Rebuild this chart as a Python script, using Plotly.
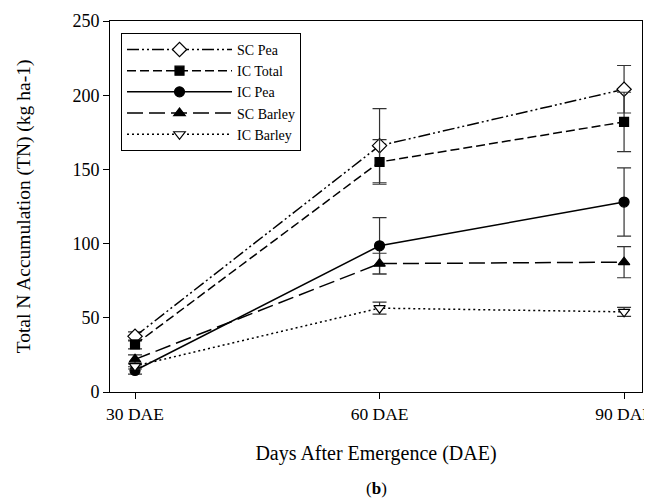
import plotly.graph_objects as go

days = [30, 60, 90]
tick_labels = ["30 DAE", "60 DAE", "90 DAE"]

sc_pea = [37.5, 166, 204]
sc_pea_err = [3, 25, 16]
ic_total = [32, 155, 182]
ic_total_err = [3, 15, 20]
ic_pea = [14.5, 98.5, 128]
ic_pea_err = [2.5, 19, 23]
sc_barley = [22, 86.5, 87.5]
sc_barley_err = [3, 7, 10.5]
ic_barley = [17.5, 56.5, 54]
ic_barley_err = [2, 4, 3]

series = [
    ("SC Pea", sc_pea, sc_pea_err, "12px,3px,2px,3px,2px,3px", "diamond", "white", 11),
    ("IC Total", ic_total, ic_total_err, "9px,4px", "square", "black", 9),
    ("IC Pea", ic_pea, ic_pea_err, "solid", "circle", "black", 10),
    ("SC Barley", sc_barley, sc_barley_err, "16px,6px", "triangle-up", "black", 10),
    ("IC Barley", ic_barley, ic_barley_err, "2px,3px", "triangle-down", "white", 10),
]

fig = go.Figure()
for name, vals, err, dash, sym, fill, size in series:
    fig.add_trace(go.Scatter(
        x=days, y=vals, name=name, mode="lines+markers",
        line=dict(color="black", width=1.5, dash=dash),
        marker=dict(symbol=sym, size=size, color=fill,
                    line=dict(color="black", width=1.2)),
        error_y=dict(type="data", array=err, visible=True, color="#333333",
                     thickness=1.2, width=7),
    ))

serif = "Liberation Serif, Times New Roman, serif"
fig.update_layout(
    width=644, height=493,
    margin=dict(l=102, r=10, t=13, b=109),
    paper_bgcolor="white", plot_bgcolor="white",
    font=dict(family=serif, color="black", size=17),
    showlegend=True,
    legend=dict(
        x=0.0207, y=0.968, xanchor="left", yanchor="top",
        bordercolor="black", borderwidth=1, bgcolor="white",
        font=dict(family=serif, size=14, color="black"),
        itemwidth=105, tracegroupgap=0,
    ),
    xaxis=dict(
        range=[26.93, 92.2], tickvals=days, ticktext=tick_labels,
        showgrid=False, zeroline=False, showline=True, linecolor="black",
        linewidth=1, mirror=True, ticks="outside", ticklen=6, tickcolor="black",
        ticklabeloverflow="allow", automargin=False,
        title=dict(text="Days After Emergence (DAE)", font=dict(size=20), standoff=22),
        tickfont=dict(size=17.5),
    ),
    yaxis=dict(
        range=[0, 250], tickvals=[0, 50, 100, 150, 200, 250],
        showgrid=False, zeroline=False, showline=True, linecolor="black",
        linewidth=1, mirror=True, ticks="outside", ticklen=6, tickcolor="black",
        automargin=False,
        title=dict(text="Total N Accumulation (TN) (kg ha-1)", font=dict(size=19.5), standoff=36),
        tickfont=dict(size=18),
    ),
    annotations=[dict(
        text="(<b>b</b>)", xref="paper", yref="paper", x=0.5, y=-0.259,
        xanchor="center", yanchor="middle", showarrow=False,
        font=dict(family=serif, size=17, color="black"),
    )],
)
fig.write_html("out.html")
